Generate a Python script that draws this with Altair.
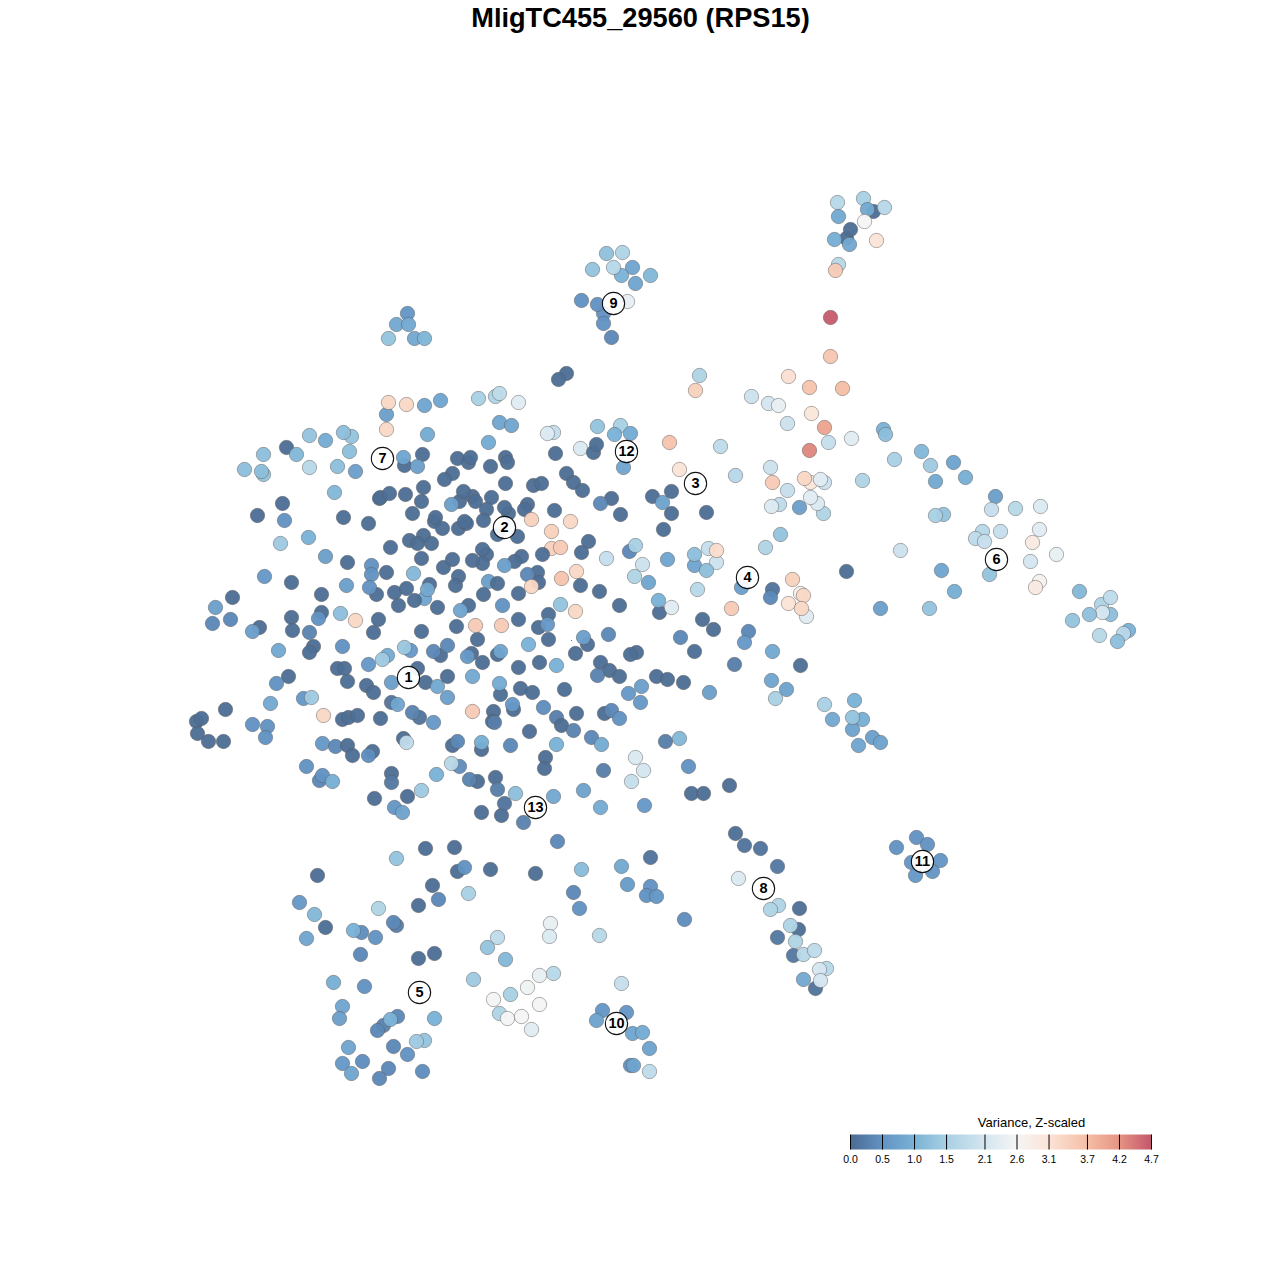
import altair as alt
import pandas as pd

TITLE = "MligTC455_29560 (RPS15)"
LEGEND_TITLE = "Variance, Z-scaled"
ORIGIN = 7.5
SIZE = 1264

# (x, y, variance), x and y in picture units
top_right = [(837,202,1.7),(863,198,1.5),(873,211,.1),(867,209,.85),(884,207,1.7),(838,216,.85),(864,221,2.6),
    (846,238,.1),(850,229,.1),(834,239,.95),(849,244,.85),(876,240,3.1),(838,264,1.7),(835,270,3.5),
    (830,317,4.65),(830,356,3.55),(788,376,3.15),(809,387,3.6),(842,388,3.7),(699,375,1.6),(695,390,3.4)]
cluster_9 = [(606,253,1.25),(622,252,1.6),(592,269,1.3),(632,267,.8),(621,275,1.0),(613,267,1.7),(635,283,.8),
    (650,275,1.1),(581,300,.5),(627,301,2.4),(603,313,.5),(597,304,.5),(603,323,.5),(611,337,.4)]
cluster_top_left = [(407,313,.55),(396,324,.85),(408,324,.85),(388,338,1.3),(414,338,.85),(424,338,1.05),
    (566,373,.1),(558,379,.1)]
row_400 = [(386,414,.7),(388,402,3.3),(406,404,3.3),(424,405,.8),(440,400,.8),(478,398,1.5),(495,396,1.6),(499,393,1.8),
    (518,402,2.3),(386,429,3.3),(499,422,.8),(511,425,.8),(553,432,1.9),(547,433,2.2),(597,426,1.3),(620,425,1.5),
    (614,434,1.0),(630,433,.9),(669,442,3.6),(720,446,1.8),(580,448,2.2),(593,452,.1),(596,444,.1),(555,453,.1),
    (623,467,.8),(679,469,3.1)]
far_left = [(309,435,1.3),(325,440,.9),(351,436,1.3),(343,432,1.2),(286,447,.1),(263,454,1.2),(296,454,1.1),
    (349,451,1.2),(244,469,1.2),(263,474,1.3),(261,471,1.2),(309,467,1.7),(337,466,1.2),(355,471,.7),
    (427,434,.9),(488,442,.9),(334,492,1.1),(282,503,.1),(257,515,.1),(284,520,.5),(343,517,.1),(368,523,.1),
    (308,537,1.0),(280,543,1.4),(264,576,.6),(291,582,.1),(232,597,.1),(215,607,.7),(212,623,.4),(230,619,.4),
    (259,627,.1),(252,631,.7),(291,617,.1),(292,630,.1),(278,650,.85),(313,646,.1),(309,652,.1),(288,676,.1),
    (276,683,.5),(270,703,.85),(303,698,.6),(311,697,1.4),(323,715,3.3),(225,709,.1),(196,721,.1),(201,718,.1),
    (252,724,.5),(267,726,.5),(265,737,.5),(197,733,.1),(208,741,.1),(223,741,.1)]
core_a = [(404,465,.1),(403,457,.8),(422,454,.1),(417,466,.7),(457,458,.1),(468,462,.1),(470,457,.1),(490,466,.1),
    (452,473,.1),(444,479,.1),(379,498,.1),(380,497,.1),(389,493,.1),(405,494,.1),(423,487,.1),(421,501,.1),
    (412,513,.1),(459,501,.1),(472,496,.1),(463,491,.1),(475,501,.1),(491,497,.1),(451,504,.7),(486,509,.1),
    (483,520,.1),(434,521,.1),(435,517,.1),(442,528,.1),(458,528,.1),(466,523,.1),(464,521,.1),(423,535,.1),
    (409,540,.1),(417,543,.1),(431,543,.1),(390,547,.1),(421,558,.1),(325,556,.7),(347,562,.1),(371,565,.5),
    (386,572,.1),(371,574,.5),(413,573,1.1),(346,585,.7),(376,594,.1),(369,587,.5),(394,592,.1),(406,588,.1),
    (429,584,.1),(424,598,.8),(427,589,.85),(414,600,.1),(398,605,.1),(437,607,.1),(321,594,.1),(321,612,.1),
    (318,618,.5),(340,613,1.2),(355,620,3.3),(378,619,.1),(373,632,.1),(421,631,.1),(309,632,.35),(342,646,.5)]
core_b = [(337,668,.1),(344,668,.1),(347,681,.1),(368,664,.6),(387,655,.9),(382,659,1.4),(410,650,.6),(404,647,1.35),
    (440,655,.15),(433,651,.4),(447,645,.4),(366,685,.1),(373,692,.1),(391,682,.7),(417,668,.1),(425,682,.1),
    (437,686,.85),(447,676,.1),(447,697,.7),(472,676,.85),(391,702,.2),(397,704,.8),(342,719,.1),(348,717,.1),
    (357,715,.1),(380,718,.1),(419,717,.2),(412,712,.35),(433,722,.6),(472,711,3.5),(493,711,.1),(492,721,.1),
    (494,722,.3),(477,639,.1),(456,626,.1),(475,625,3.5),(501,625,3.5),(468,605,.1),(460,610,.8),(488,581,.7),
    (483,594,.1),(497,583,.1),(502,605,.5),(471,653,.1),(467,656,.6),(482,662,.1),(497,654,.1),(500,651,.8),
    (486,554,.1),(482,549,.1),(482,563,.1),(472,560,.1),(443,567,.1),(452,559,.1),(458,576,.1),(455,585,.1)]
core_c = [(505,457,.1),(507,462,.1),(566,473,.1),(573,482,.1),(582,490,.1),(505,483,.1),(533,485,.1),(541,483,.1),
    (611,498,.1),(600,503,.4),(620,514,.1),(652,496,.1),(671,491,.1),(662,502,.75),(671,513,.1),(706,512,.1),
    (663,529,.1),(554,510,.1),(508,513,.1),(504,507,.1),(527,504,.1),(524,509,.1),(531,519,3.4),(570,521,3.3),
    (551,531,3.4),(497,534,.1),(517,536,.1),(551,548,3.4),(560,547,3.5),(588,541,.1),(581,552,.1),(542,554,.1),
    (521,556,.1),(514,561,.1),(504,565,.7),(606,558,1.9),(629,551,.4),(635,545,1.5),(642,564,2.0),(667,559,.8),
    (694,565,.8),(694,554,1.2),(708,548,1.9),(716,562,2.0),(706,570,1.2),(716,550,3.2),(634,576,1.6),(648,582,.8),
    (697,589,1.7),(537,572,.1),(538,582,.1),(527,574,.4),(531,586,3.3),(561,578,3.6),(576,571,3.3),(580,585,.1),
    (599,591,.1),(518,593,.1),(560,604,1.3),(575,611,3.3),(619,605,.1),(659,612,.1),(658,600,1.0),(671,607,2.3)]
core_d = [(702,619,.1),(713,629,.1),(518,619,.1),(548,614,.1),(538,627,.1),(547,624,.6),(548,639,.1),(587,644,.1),
    (583,637,.7),(608,634,.4),(575,653,.1),(528,644,1.0),(680,637,.4),(694,651,.1),(636,652,.1),(630,654,.1),
    (600,662,.1),(609,670,.1),(597,675,.35),(619,676,.1),(539,662,.1),(518,667,.1),(556,665,1.0),(656,676,.1),
    (667,679,.1),(683,682,.1),(641,686,.7),(628,693,.6),(640,702,.6),(709,692,.7),(564,689,.1),(520,688,.1),
    (532,692,.1),(500,694,.1),(499,683,.9),(513,709,.1),(512,704,.6),(543,707,.45),(576,713,.1),(604,713,.1),
    (611,710,.4),(619,718,.5),(556,717,.3),(561,725,.1),(573,730,.35),(529,731,.1),(591,737,.4),(601,744,.9),
    (665,741,.3),(679,738,1.1)]
lower_mid = [(322,743,.6),(335,746,.4),(347,745,.1),(352,755,.1),(372,751,.1),(368,755,.45),(391,773,.1),(391,782,.25),
    (374,798,.1),(403,738,.1),(406,742,1.8),(306,766,.5),(319,780,.4),(322,775,.5),(332,781,.95),(436,774,1.0),
    (421,790,1.4),(407,796,.1),(394,807,.55),(402,812,.75),(452,745,.1),(457,741,.4),(481,749,.1),(481,742,.95),
    (459,766,.45),(451,763,1.7),(477,781,.1),(469,779,.35),(495,777,.1),(497,789,.3),(481,812,.1),(501,815,.1),
    (504,803,.2),(510,745,.4),(556,744,1.0),(635,757,2.2),(643,770,2.1),(631,781,1.9),(603,770,.3),(688,766,.5),
    (545,757,.1),(544,768,.1),(729,785,.1),(691,793,.1),(703,793,.1),(583,790,.75),(553,796,.85),(515,793,1.2),
    (523,822,.35),(600,807,.9),(644,805,.6),(557,841,.4)]
bottom_left = [(425,848,.1),(454,847,.1),(396,858,1.3),(457,871,.1),(464,867,.5),(490,869,.1),(317,875,.1),(535,873,.1),
    (432,885,.1),(438,899,.4),(468,893,1.5),(418,905,.1),(299,902,.6),(314,914,1.1),(325,927,.1),(306,938,.8),
    (378,908,1.6),(361,932,.45),(353,930,1.0),(375,937,.5),(396,925,.3),(393,922,.4),(360,954,.4),(418,958,.1),
    (434,953,.1),(333,982,.95),(364,986,.5),(342,1006,.8),(339,1018,.7),(397,1016,.4),(383,1025,.35),(377,1030,.4),
    (390,1019,1.0),(434,1018,1.0),(424,1040,1.3),(416,1041,1.4),(393,1046,.4),(348,1047,.8),(407,1054,.5),
    (362,1061,.45),(342,1063,.6),(351,1073,.8),(388,1068,.4),(379,1078,.4),(422,1071,.45)]
bottom_mid = [(581,869,1.15),(621,866,.85),(650,857,.2),(627,884,.65),(650,886,.5),(646,895,.5),(656,896,.55),(573,892,.4),
    (579,908,.5),(684,919,.45),(550,923,2.4),(549,936,2.2),(599,935,1.7),(497,937,1.8),(487,947,1.3),(505,959,1.1),
    (473,979,1.4),(553,973,1.7),(539,975,2.4),(527,987,2.5),(510,994,1.5),(493,999,2.6),(539,1004,2.6),(621,983,1.9),
    (499,1013,1.6),(507,1018,2.6),(521,1016,2.6),(531,1029,2.3),(602,1010,.55),(626,1012,.55),(596,1020,.75),
    (632,1033,.8),(642,1032,.9),(649,1048,.75),(630,1065,.5),(633,1065,.75),(649,1071,1.8)]
right_upper = [(751,396,2.0),(768,403,2.1),(778,405,2.4),(811,413,3.0),(787,423,2.0),(824,427,4.0),(828,442,1.9),
    (851,438,2.3),(883,429,1.0),(885,434,1.2),(809,450,4.3),(894,459,1.5),(921,451,1.1),(930,465,1.4),(953,462,.75),
    (965,477,.95),(935,481,.85),(735,475,1.7),(770,467,2.0),(772,482,3.5),(787,490,1.9),(810,482,3.0),(804,478,3.3),
    (824,482,2.0),(820,479,2.3),(862,480,1.6),(823,513,1.6),(817,503,2.2),(810,497,2.3),(799,507,.7),(779,504,1.8),
    (771,506,2.2),(780,534,1.3),(765,547,1.6),(846,571,.1),(741,587,.7),(792,579,3.4),(772,589,.2),(770,597,.4),
    (800,593,2.8),(803,595,3.3),(806,616,2.3),(788,603,3.1),(801,608,3.3),(731,608,3.5),(748,631,.4),(744,642,.6),
    (772,651,.85),(734,664,.3),(800,665,.15)]
right_far = [(995,496,.7),(991,509,1.9),(1015,508,1.7),(1040,506,2.2),(1039,529,2.3),(1032,542,2.9),(943,514,1.3),
    (935,515,1.5),(982,531,1.7),(975,538,1.8),(984,541,1.9),(1000,531,1.9),(900,550,2.0),(941,570,.8),(954,591,.95),
    (989,574,1.3),(929,608,1.3),(880,608,.7),(1056,554,2.4),(1030,561,2.1),(1039,581,2.7),(1035,587,2.9),(1079,591,1.1),
    (1101,604,1.6),(1110,597,1.8),(1110,614,1.2),(1102,612,2.1),(1089,614,1.25),(1072,620,1.3),(1128,630,1.0),
    (1123,633,1.7),(1099,635,1.7),(1117,641,1.2)]
lower_right = [(771,680,.8),(786,689,.75),(775,698,1.5),(824,704,1.5),(854,700,1.0),(832,719,.85),(862,719,.95),
    (852,729,.75),(852,717,1.3),(872,737,.7),(880,742,.75),(858,745,.8),(735,833,.15),(744,845,.2),(760,848,.2),
    (777,866,.25),(738,878,2.2),(896,847,.5),(916,837,.5),(927,844,.5),(911,862,.55),(940,860,.55),(932,871,.55),
    (915,875,.6),(778,905,1.6),(770,909,1.6),(799,908,.15),(798,929,.15),(790,925,1.6),(777,937,.25),(793,955,.25),
    (795,941,1.6),(803,954,1.7),(814,950,1.8),(826,968,1.7),(819,969,2.1),(803,979,.85),(815,988,.2),(820,980,2.1)]

cluster_ids = [1, 2, 3, 4, 5, 6, 7, 8, 9, 10, 11, 12, 13]
cluster_x = [408, 504, 695, 747, 419, 996, 382, 763, 613, 616, 922, 626, 535]
cluster_y = [677, 527, 483, 577, 992, 559, 458, 888, 303, 1023, 861, 451, 807]

legend_ticks = [0.0, 0.5, 1.0, 1.5, 2.1, 2.6, 3.1, 3.7, 4.2, 4.7]
legend_colors = ["#4a6b92", "#6293c4", "#7ab2d6", "#a8d0e4", "#d4e6f0", "#f5f5f5",
                 "#fbe3d6", "#f5bea5", "#e59383", "#c3566b"]
# the darkest cells stay near the bottom colour of the key
scale_domain = [0.0, 0.15, 0.5, 1.0, 1.5, 2.1, 2.6, 3.1, 3.7, 4.2, 4.7]
scale_colors = ["#4a6b92", "#4e6f96", "#6293c4", "#7ab2d6", "#a8d0e4", "#d4e6f0", "#f5f5f5",
                "#fbe3d6", "#f5bea5", "#e59383", "#c3566b"]
LEG_X0, LEG_X1, LEG_Y0, LEG_Y1 = 850, 1151, 1134, 1149
LEG_LABEL_Y, LEG_TITLE_X, LEG_TITLE_Y = 1159, 1031, 1122
TITLE_X, TITLE_Y = 640, 18.5

points = pd.DataFrame(
    top_right + cluster_9 + cluster_top_left + row_400 + far_left + core_a + core_b + core_c + core_d
    + lower_mid + bottom_left + bottom_mid + right_upper + right_far + lower_right,
    columns=["x", "y", "v"],
)
labels = pd.DataFrame({"x": cluster_x, "y": cluster_y, "id": cluster_ids})
tiny = pd.DataFrame({"x": [571], "y": [640]})
tick_x = [LEG_X0 + v / 4.7 * (LEG_X1 - LEG_X0) for v in legend_ticks]
ticks = pd.DataFrame({
    "x": tick_x,
    "y": [LEG_Y0] * len(legend_ticks),
    "y2": [LEG_Y1] * len(legend_ticks),
    "label_y": [LEG_LABEL_Y] * len(legend_ticks),
    "t": [f"{v:.1f}" for v in legend_ticks],
})
bar = pd.DataFrame({"x": [LEG_X0], "x2": [LEG_X1], "y": [LEG_Y0], "y2": [LEG_Y1]})
legend_title = pd.DataFrame({"x": [LEG_TITLE_X], "y": [LEG_TITLE_Y], "t": [LEGEND_TITLE]})
title_row = pd.DataFrame({"x": [TITLE_X], "y": [TITLE_Y], "t": [TITLE]})

xs = alt.Scale(domain=[ORIGIN, ORIGIN + SIZE], range=[0, SIZE])
ys = alt.Scale(domain=[ORIGIN, ORIGIN + SIZE], range=[0, SIZE])
X = alt.X("x:Q", scale=xs, axis=None)
Y = alt.Y("y:Q", scale=ys, axis=None)

dots = alt.Chart(points).mark_circle(
    size=207, opacity=1, fillOpacity=0.96, stroke="#5a5a5a", strokeWidth=0.8, strokeOpacity=0.6
).encode(
    x=X, y=Y,
    color=alt.Color(
        "v:Q",
        scale=alt.Scale(domain=scale_domain, range=scale_colors),
        legend=None,
    ),
)
tiny_dot = alt.Chart(tiny).mark_circle(size=1, color="#2a4a70", opacity=1).encode(x=X, y=Y)
rings = alt.Chart(labels).mark_circle(
    size=497, color="#ffffff", opacity=0.92, stroke="#000000", strokeWidth=1.1, strokeOpacity=1
).encode(x=X, y=Y)
numbers = alt.Chart(labels).mark_text(
    font="Liberation Sans", fontWeight="bold", fontSize=14.5, color="#000000", baseline="middle", align="center"
).encode(x=X, y=Y, text="id:N")

stops = [alt.GradientStop(color=c, offset=v / 4.7) for v, c in zip(legend_ticks, legend_colors)]
legend_bar = alt.Chart(bar).mark_rect(
    fill=alt.Gradient(gradient="linear", stops=stops, x1=0, x2=1, y1=0, y2=0)
).encode(x=X, x2="x2:Q", y=Y, y2="y2:Q")
tick_rules = alt.Chart(ticks).mark_rule(color="#000000", strokeWidth=1).encode(
    x=X, y=Y, y2="y2:Q"
)
tick_labels = alt.Chart(ticks).mark_text(
    font="Liberation Sans", fontSize=10.5, color="#000000", baseline="middle", align="center"
).encode(x=X, y=alt.Y("label_y:Q", scale=ys, axis=None), text="t:N")
leg_text = alt.Chart(legend_title).mark_text(
    font="Liberation Sans", fontSize=13, color="#000000", baseline="middle", align="center"
).encode(x=X, y=Y, text="t:N")
title_text = alt.Chart(title_row).mark_text(
    font="Liberation Sans", fontSize=27.2, fontWeight="bold", color="#000000", baseline="middle", align="center"
).encode(x=X, y=Y, text="t:N")

chart = (
    alt.layer(dots, tiny_dot, rings, numbers, legend_bar, tick_rules, tick_labels, leg_text, title_text)
    .properties(
        width=SIZE, height=SIZE, padding=0,
        autosize=alt.AutoSizeParams(type="none"),
    )
    .configure_view(stroke=None)
)
chart.save("out.html", embed_options={"renderer": "svg", "actions": False})
